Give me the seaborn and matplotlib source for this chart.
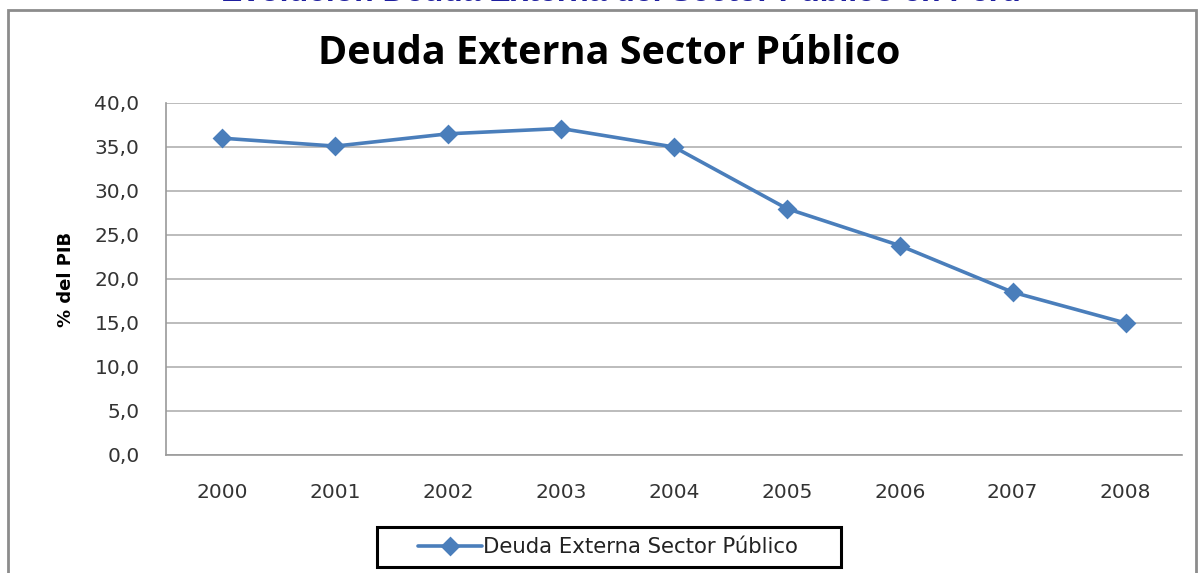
import matplotlib
matplotlib.use('Agg')
import matplotlib.pyplot as plt
import seaborn as sns
from matplotlib.patches import Rectangle

years = ['2000', '2001', '2002', '2003', '2004', '2005', '2006', '2007', '2008']
deuda = [36.0, 35.1, 36.5, 37.1, 35.0, 28.0, 23.8, 18.5, 15.0]
yticks = [0, 5, 10, 15, 20, 25, 30, 35, 40]
serie = 'Deuda Externa Sector Público'

sns.set_style('white')
plt.rcParams['font.family'] = ['DejaVu Sans']

W, H = 1199, 573
fig = plt.figure(figsize=(W / 100, H / 100), dpi=100)
ax = fig.add_axes([166 / W, 1 - 455 / H, 1016 / W, 352 / H])

# outer chart frame
fig.patches.append(Rectangle((8 / W, -0.1), 1188 / W, 1.1 - 10 / H,
                             transform=fig.transFigure, fill=False,
                             edgecolor='#8c8c8c', linewidth=2))
# legend box
fig.patches.append(Rectangle((377 / W, 1 - 567 / H), 464 / W, 40 / H,
                             transform=fig.transFigure, fill=False,
                             edgecolor='black', linewidth=2.2))

sns.pointplot(x=years, y=deuda, ax=ax, color='#4a7ebb', markers='D',
              markersize=8, linewidth=2.6, label=serie)

ax.set_ylim(0, 40)
ax.set_xlim(-0.5, 8.5)
ax.set_yticks(yticks)
ax.set_yticklabels([f'{v:.1f}'.replace('.', ',') for v in yticks])
ax.yaxis.grid(True, color='#b0b0b0', linewidth=1.2)
ax.set_axisbelow(True)
sns.despine(ax=ax, top=True, right=True)
for s in ['left', 'bottom']:
    ax.spines[s].set_color('#9a9a9a')
    ax.spines[s].set_linewidth(1.2)
ax.tick_params(axis='both', length=0, labelsize=14.5, colors='#333333')
ax.tick_params(axis='y', pad=19)
ax.tick_params(axis='x', pad=20)
ax.set_xlabel('')
ax.set_ylabel('% del PIB', fontsize=13, fontweight='bold', color='black',
              fontfamily='Liberation Sans Narrow', labelpad=14)

fig.text(0.508, 0.906, 'Deuda Externa Sector Público', ha='center', va='center',
         fontsize=28.5, fontweight='bold', color='black', fontfamily='Open Sans')
fig.text(0.518, 1.012, 'Evolución Deuda Externa del Sector Público en Perú', ha='center', va='center',
         fontsize=23, fontweight='bold', color='#1f1f9f', fontfamily='Liberation Sans')

leg = ax.legend(loc='center left', bbox_to_anchor=((418 - 166) / 1016, (455 - 547) / 352),
                frameon=False, handlelength=3.0, borderpad=0, borderaxespad=0, handletextpad=0.05,
                prop={'family': 'DejaVu Sans', 'size': 15.3})
for t in leg.get_texts():
    t.set_color('#222222')

fig.savefig('out.png', dpi=100)
